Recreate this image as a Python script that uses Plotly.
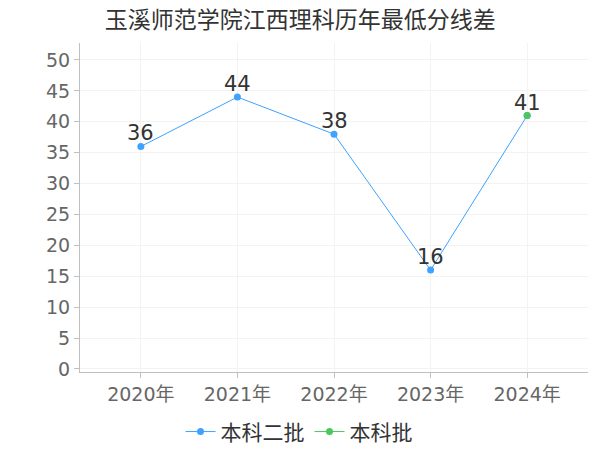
import plotly.graph_objects as go

years = ["2020年", "2021年", "2022年", "2023年", "2024年"]
s1_name = "本科二批"
s1_vals = [36, 44, 38, 16, 41]
s2_name = "本科批"
s2_vals = [None, None, None, None, 41]
label_vals = [36, 44, 38, 16, 41]

font = "DejaVu Sans, Noto Sans CJK SC"
fig = go.Figure()
fig.add_trace(go.Scatter(x=years, y=s1_vals, name=s1_name, mode="lines+markers",
                         line=dict(color="#3fa2ff", width=1), marker=dict(size=7, color="#3fa2ff")))
fig.add_trace(go.Scatter(x=years, y=s2_vals, name=s2_name, mode="lines+markers",
                         line=dict(color="#4cc65e", width=1), marker=dict(size=7, color="#4cc65e")))
for xv, yv in zip(years, label_vals):
    fig.add_annotation(x=xv, y=yv, text=str(yv), showarrow=False, yshift=13,
                       font=dict(size=21, color="#333333", family=font))
fig.update_layout(
    width=600, height=450,
    margin=dict(l=72, r=20, t=35, b=86, autoexpand=False),
    paper_bgcolor="white", plot_bgcolor="white",
    title=dict(text="玉溪师范学院江西理科历年最低分线差", x=0.487, xanchor="center", xref="container",
               y=0.973, yanchor="middle", yref="container",
               font=dict(size=23, color="#333333", family="Noto Sans CJK SC")),
    xaxis=dict(type="category", range=[-0.63, 4.63], showgrid=True, gridcolor="#f3f3f3", automargin=False,
               showline=True, linecolor="#c0c0c0", ticks="outside", tickcolor="#c0c0c0", ticklen=5,
               tickfont=dict(size=19, color="#666666", family=font)),
    yaxis=dict(range=[-0.5, 52.75], dtick=5, tick0=0, showgrid=True, gridcolor="#f3f3f3", automargin=False,
               zeroline=False, showline=True, linecolor="#c0c0c0", ticks="outside", tickcolor="#c0c0c0",
               ticklen=5, tickfont=dict(size=19, color="#666666", family=font)),
    legend=dict(orientation="h", x=0.485, xanchor="center", xref="container",
                y=0.058, yanchor="middle", yref="container",
                font=dict(size=21, color="#333333", family="Noto Sans CJK SC"), itemwidth=30, tracegroupgap=0),
    showlegend=True,
)
fig.write_html("out.html")
